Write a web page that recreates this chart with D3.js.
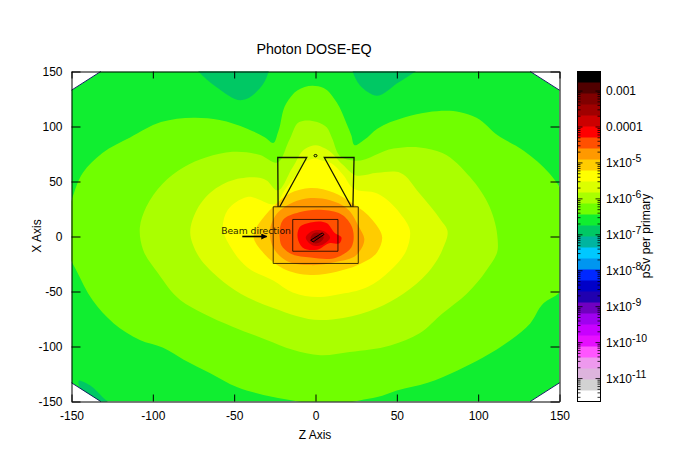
<!DOCTYPE html>
<html><head><meta charset="utf-8">
<script src="https://cdn.jsdelivr.net/npm/d3@7/dist/d3.min.js"></script>
<style>html,body{margin:0;padding:0;background:#fff}svg{display:block}text{font-family:"Liberation Sans",Arial,sans-serif;fill:#000}</style>
</head><body><svg id="c" width="698" height="473"></svg>
<script>
const title="Photon DOSE-EQ", xLabel="Z Axis", yLabel="X Axis", barLabel="pSv per primary", beamLabel="Beam direction";
const xTicks=[-150,-100,-50,0,50,100,150], yTicks=[-150,-100,-50,0,50,100,150];
const barTicks=[[1e-3,"0.001"],[1e-4,"0.0001"],[1e-5,"1x10","-5"],[1e-6,"1x10","-6"],[1e-7,"1x10","-7"],[1e-8,"1x10","-8"],[1e-9,"1x10","-9"],[1e-10,"1x10","-10"],[1e-11,"1x10","-11"]];
const barColors=["#000000","#500000","#800000","#a00000","#cc0000","#ff0000","#ff5000","#ff9900","#ffcc00","#ffff00","#dcff00","#aaff00","#70ff00","#10ee30","#00c864","#00b4a0","#00c8ff","#0096f0","#0028ff","#0000c8","#2000b0","#7000c0","#a000f0","#c800ff","#e60fff","#ff55ff","#ee99ee","#ddb4dd","#d2d2d2","#ffffff"];
const octagon=[[-132,150],[132,150],[150,133],[150,-133],[132,-150],[-132,-150],[-150,-133],[-150,133]];
const tealA=[[-75,156],[-61,136],[-45,124],[-32,139],[-28,156]];
const tealB=[[22,156],[27,138],[38,128],[50,139],[66,156]];
const tealC=[[-145,-131],[-138,-136],[-131,-146],[-127,-152],[-135,-156]];
const level2=[[-26,85],[-31,90],[-42,98],[-59,106],[-75,108],[-95,104],[-114,90],[-131,76],[-143,58],[-150,33],[-153,20],[-153,-12],[-147,-31],[-137,-58],[-124,-79],[-108,-94],[-94,-101],[-81,-112],[-65,-124],[-48,-137],[-32,-144],[-14,-149],[3,-153],[17,-152],[27,-149],[38,-146],[50,-140],[69,-133],[87,-122],[103,-110],[120,-94],[132,-79],[140,-61],[150,-51],[153,-12],[153,37],[144,57],[128,78],[112,92],[99,108],[89,113],[69,113],[54,108],[38,98],[30,88],[24,83],[22,92],[19,103],[13,122],[5,135],[-2,137],[-11,133],[-18,121],[-23,95]];
const level3=[[-24,67],[-34,74],[-51,77],[-67,72],[-81,63],[-94,48],[-104,27],[-108,8],[-106,-12],[-97,-33],[-83,-58],[-69,-70],[-51,-82],[-30,-94],[-14,-103],[3,-108],[21,-105],[46,-99],[64,-88],[78,-70],[93,-52],[105,-31],[112,-12],[112,-3],[107,27],[95,54],[78,76],[64,81],[48,80],[23,69],[16,72],[10,90],[7,99],[1,104],[-10,104],[-16,88]];
const level4=[[-24,42],[-30,51],[-46,53],[-61,44],[-73,24],[-77,3],[-73,-15],[-60,-37],[-46,-52],[-26,-65],[3,-76],[17,-74],[38,-65],[54,-52],[69,-33],[78,-12],[81,6],[77,15],[64,39],[52,58],[38,58],[24,56],[17,65],[6,80],[0,83],[-6,80],[-14,63]];
const level5=[[-24,30],[-42,36],[-54,24],[-57,8],[-52,-10],[-42,-28],[-26,-40],[-14,-51],[3,-55],[13,-53],[32,-46],[46,-31],[56,-12],[58,6],[52,21],[38,39],[23,44],[17,56],[9,67],[4,69],[0,71],[-5,69],[-11,58],[-19,42]];
const level6=[[-38,-1],[-31,19],[-26,27],[-16,39],[-3,44],[11,40],[23,30],[35,15],[41,-1],[38,-14],[26,-26],[13,-32],[-3,-35],[-20,-29],[-32,-15]];
const level7=[[-28,6],[-23,22],[-14,31],[-3,35],[9,33],[19,26],[27,8],[30,-2],[25,-17],[13,-23],[-3,-26],[-18,-22],[-26,-10]];
const level8=[[-22,-1],[-20,15],[-10,22],[5,24],[17,19],[23,6],[22,-10],[13,-19],[-3,-19],[-16,-15],[-21,-8]];
const level9=[[-11,-1],[-10,8],[-2,13],[7,12],[12,3],[16,-1],[15,-6],[9,-6],[1,-12],[-8,-10]];
const level10=[[-6,-1],[-2,5],[5,5],[9,-1],[5,-7],[-2,-8]];
const level11=[[-3,-1],[-1,3],[3,3],[5,-1],[3,-5],[-1,-6]];
const level12=[[-1,-1],[1,1],[3,0],[2,-2],[0,-3]];
const levels=[[level2,"#70ff00"],[level3,"#aaff00"],[level4,"#dcff00"],[level5,"#ffff00"],[level6,"#ffcc00"],[level7,"#ff9900"],[level8,"#ff5000"],[level9,"#ff0000"],[level10,"#cc0000"],[level11,"#a00000"],[level12,"#800000"]];
const outerRect=[[-26,27],[26.3,27],[26.3,-24.5],[-26,-24.5],[-26,27]];
const innerRect=[[-14,15.5],[13.8,15.5],[13.8,-13.4],[-14,-13.4],[-14,15.5]];
const trapLeft=[[-23,27],[-23.2,71.8],[-5.4,71.8],[-22,27]];
const trapRight=[[23,27],[23.7,71.8],[5.4,71.8],[22,27]];
const target=[[-3,-3.4],[4.2,3.3],[5.2,1.8],[-1.4,-4.9],[-3,-3.4]];
const ring=[0,73.5];
const beam=[[-45,0],[-30,0]];
const beamText=[-58,2.6];

const svg=d3.select("#c");
const x=d3.scaleLinear().domain([-150,150]).range([71.5,559.5]);
const y=d3.scaleLinear().domain([-150,150]).range([401.5,71.5]);
const W=[71.5,559.5],H=[71.5,401.5];
const closed=d3.line().x(d=>x(d[0])).y(d=>y(d[1])).curve(d3.curveCatmullRomClosed.alpha(1));
const straight=d3.line().x(d=>x(d[0])).y(d=>y(d[1]));

const defs=svg.append("defs");
defs.append("clipPath").attr("id","oct").append("path").attr("d",straight(octagon)+"Z");
defs.append("marker").attr("id","head").attr("viewBox","0 0 10 10").attr("refX",9).attr("refY",5).attr("markerWidth",9).attr("markerHeight",6).attr("markerUnits","userSpaceOnUse").attr("orient","auto").append("path").attr("d","M0,0L10,5L0,10Z").attr("fill","#000");

const field=svg.append("g").attr("clip-path","url(#oct)");
field.append("path").attr("d",straight(octagon)+"Z").attr("fill","#10ee30");
field.selectAll(".teal").data([tealA,tealB,tealC]).join("path").attr("d",d=>closed(d)).attr("fill","#00c864");
field.selectAll(".lvl").data(levels).join("path").attr("d",d=>closed(d[0])).attr("fill",d=>d[1]);

const cornerEdges=[[octagon[0],octagon[7]],[octagon[1],octagon[2]],[octagon[3],octagon[4]],[octagon[5],octagon[6]]];
svg.selectAll(".edge").data(cornerEdges).join("path").attr("d",d=>straight(d)).attr("fill","none").attr("stroke","#102060").attr("stroke-width",1);

const geo=svg.append("g").attr("fill","none").attr("stroke","#000");
geo.selectAll("path.r").data([outerRect,innerRect]).join("path").attr("d",d=>straight(d)).attr("stroke-width",1).attr("stroke-opacity",.75);
geo.selectAll("path.t").data([trapLeft,trapRight]).join("path").attr("d",d=>straight(d)).attr("stroke-width",1.3).attr("stroke-opacity",.9);
geo.append("path").attr("d",straight(target)).attr("stroke-width",1);
geo.append("ellipse").attr("cx",x(ring[0])).attr("cy",y(ring[1])).attr("rx",1.5).attr("ry",1.2).attr("stroke-width",1);
svg.append("path").attr("d",straight(beam)).attr("stroke","#000").attr("stroke-width",1.6).attr("marker-end","url(#head)");
svg.append("text").attr("x",x(beamText[0])).attr("y",y(beamText[1])).style("font-family","'DejaVu Sans'").style("font-size","9.2px").attr("opacity",.85).text(beamLabel);

const style=g=>{g.selectAll("path.domain").attr("stroke","#000");g.selectAll("line").attr("stroke","#000");g.selectAll("text").style("font-family","'Liberation Sans'").style("font-size","12px").attr("fill","#000");};
const plain=d=>String(d);
svg.append("g").attr("transform",`translate(0,${H[1]})`).call(d3.axisBottom(x).tickValues(xTicks).tickFormat(plain).tickSize(-7).tickSizeOuter(0).tickPadding(10)).call(style);
svg.append("g").attr("transform",`translate(0,${H[0]})`).call(d3.axisTop(x).tickValues(xTicks).tickSize(-7).tickSizeOuter(0).tickFormat("")).call(style);
svg.append("g").attr("transform",`translate(${W[0]},0)`).call(d3.axisLeft(y).tickValues(yTicks).tickFormat(plain).tickSize(-9).tickSizeOuter(0).tickPadding(9)).call(style);
svg.append("g").attr("transform",`translate(${W[1]},0)`).call(d3.axisRight(y).tickValues(yTicks).tickSize(-9).tickSizeOuter(0).tickFormat("")).call(style);

svg.append("text").attr("x",314).attr("y",54).attr("text-anchor","middle").style("font-size","14.3px").text(title);
svg.append("text").attr("x",315).attr("y",439).attr("text-anchor","middle").style("font-size","12px").text(xLabel);
svg.append("text").attr("transform","translate(41,236) rotate(-90)").attr("text-anchor","middle").style("font-size","12px").text(yLabel);

const bar=[577.5,600.5];
const band=d3.scaleBand().domain(d3.range(barColors.length)).range([71.5,401.5]);
svg.selectAll(".band").data(barColors).join("rect").attr("x",bar[0]).attr("width",bar[1]-bar[0]).attr("y",(d,i)=>band(i)).attr("height",band.bandwidth()+0.5).attr("fill",d=>d);
const log=d3.scaleLog().domain([3.5e-3,2.3e-12]).range([71.5,401.5]);
const minor=[];
for(let e=-12;e<=-3;e++)for(let m=1;m<10;m++){const v=m*Math.pow(10,e);if(v<=3.5e-3&&v>=2.3e-12)minor.push([v,m===1]);}
const tg=svg.append("g");
[[bar[0],1],[bar[1],-1]].forEach(([bx,s])=>{
  tg.selectAll(null).data(minor).join("line").attr("x1",bx).attr("x2",d=>bx+s*(d[1]?5:3)).attr("y1",d=>log(d[0])).attr("y2",d=>log(d[0])).attr("stroke","#000").attr("stroke-width",.8);
});
svg.append("rect").attr("x",bar[0]).attr("y",71.5).attr("width",bar[1]-bar[0]).attr("height",330).attr("fill","none").attr("stroke","#000");
const lab=svg.selectAll(".bl").data(barTicks).join("text").attr("x",606).attr("y",d=>log(d[0])+4).style("font-size","12px");
lab.append("tspan").text(d=>d[1]);
lab.filter(d=>d[2]).append("tspan").attr("dy",-5).style("font-size","10.5px").text(d=>d[2]);
svg.append("text").attr("transform","translate(650,236) rotate(-90)").attr("text-anchor","middle").style("font-size","12px").text(barLabel);
</script></body></html>
